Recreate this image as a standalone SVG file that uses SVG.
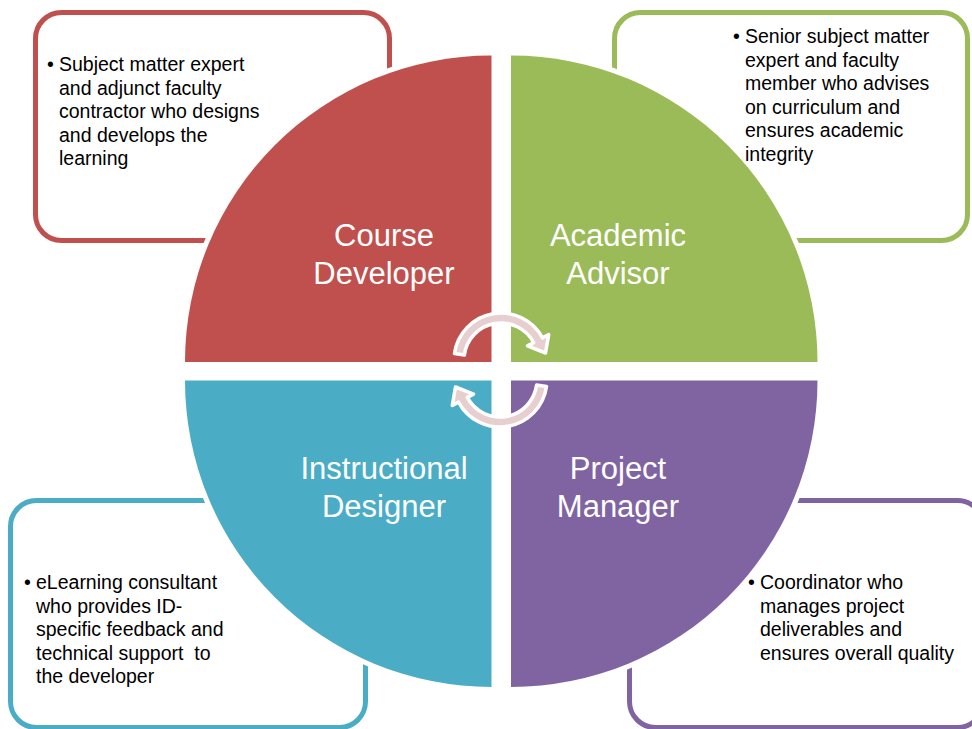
<svg xmlns="http://www.w3.org/2000/svg" width="972" height="729" viewBox="0 0 972 729">
  <style>
    .box { fill: #ffffff; stroke-width: 5; }
    .pie { stroke: #ffffff; stroke-width: 10; paint-order: stroke; stroke-linejoin: miter; }
    .label { font-family: "Liberation Sans", Arial, sans-serif; font-size: 31px; fill: #ffffff; text-anchor: middle; }
    .note { font-family: "Liberation Sans", Arial, sans-serif; font-size: 19.5px; fill: #000000; }
    .cycle { fill: #e8cfcf; stroke: #ffffff; stroke-width: 3.5; stroke-linejoin: round; }
  </style>
  <defs>
    <path id="cycle-arrow" d="M454.5,353.5 A47,47 0 0 1 542.5,337.9 L548.7,334.6 L545.5,353 L527.5,345.9 L533.7,342.6 A37,37 0 0 0 464.4,354.9 Z"/>
  </defs>

  <rect width="972" height="729" fill="#ffffff"/>

  <!-- Course Developer -->
  <g id="course-developer">
    <rect class="box" x="35.5" y="12.5" width="354" height="228" rx="26" stroke="#c0504d"/>
    <path class="pie" fill="#c0504d" d="M491.5,362 L185,362 A306.5,306.5 0 0 1 491.5,55.5 Z"/>
    <text class="label" x="384" y="246">Course</text>
    <text class="label" x="384" y="284">Developer</text>
    <text class="note" x="47" y="71">•</text>
    <text class="note">
      <tspan x="59" y="71">Subject matter expert</tspan>
      <tspan x="59" y="94.5">and adjunct faculty</tspan>
      <tspan x="59" y="118">contractor who designs</tspan>
      <tspan x="59" y="141.5">and develops the</tspan>
      <tspan x="59" y="165">learning</tspan>
    </text>
  </g>

  <!-- Academic Advisor -->
  <g id="academic-advisor">
    <rect class="box" x="614.5" y="12.5" width="353" height="228" rx="26" stroke="#9bbb59"/>
    <path class="pie" fill="#9bbb59" d="M511,362 L511,55.5 A306.5,306.5 0 0 1 817.5,362 Z"/>
    <text class="label" x="618" y="246">Academic</text>
    <text class="label" x="618" y="284">Advisor</text>
    <text class="note" x="733" y="43">•</text>
    <text class="note">
      <tspan x="745" y="43">Senior subject matter</tspan>
      <tspan x="745" y="66.5">expert and faculty</tspan>
      <tspan x="745" y="90">member who advises</tspan>
      <tspan x="745" y="113.5">on curriculum and</tspan>
      <tspan x="745" y="137">ensures academic</tspan>
      <tspan x="745" y="160.5">integrity</tspan>
    </text>
  </g>

  <!-- Instructional Designer -->
  <g id="instructional-designer">
    <rect class="box" x="10.5" y="500.5" width="355" height="227" rx="26" stroke="#4bacc6"/>
    <path class="pie" fill="#4bacc6" d="M491.5,380.5 L491.5,687 A306.5,306.5 0 0 1 185,380.5 Z"/>
    <text class="label" x="384" y="479">Instructional</text>
    <text class="label" x="384" y="517">Designer</text>
    <text class="note" x="24" y="589">•</text>
    <text class="note">
      <tspan x="36" y="589">eLearning consultant</tspan>
      <tspan x="36" y="612.5">who provides ID-</tspan>
      <tspan x="36" y="636">specific feedback and</tspan>
      <tspan x="36" y="659.5" xml:space="preserve">technical support  to</tspan>
      <tspan x="36" y="683">the developer</tspan>
    </text>
  </g>

  <!-- Project Manager -->
  <g id="project-manager">
    <rect class="box" x="629.5" y="500.5" width="354" height="227" rx="26" stroke="#8064a2"/>
    <path class="pie" fill="#8064a2" d="M511,380.5 L817.5,380.5 A306.5,306.5 0 0 1 511,687 Z"/>
    <text class="label" x="618" y="479">Project</text>
    <text class="label" x="618" y="517">Manager</text>
    <text class="note" x="748" y="589">•</text>
    <text class="note">
      <tspan x="760" y="589">Coordinator who</tspan>
      <tspan x="760" y="612.5">manages project</tspan>
      <tspan x="760" y="636">deliverables and</tspan>
      <tspan x="760" y="659.5">ensures overall quality</tspan>
    </text>
  </g>

  <!-- Cycle arrows in the centre -->
  <g id="connectors">
    <use href="#cycle-arrow" class="cycle"/>
    <use href="#cycle-arrow" class="cycle" transform="rotate(180 500.5 370)"/>
  </g>
</svg>
